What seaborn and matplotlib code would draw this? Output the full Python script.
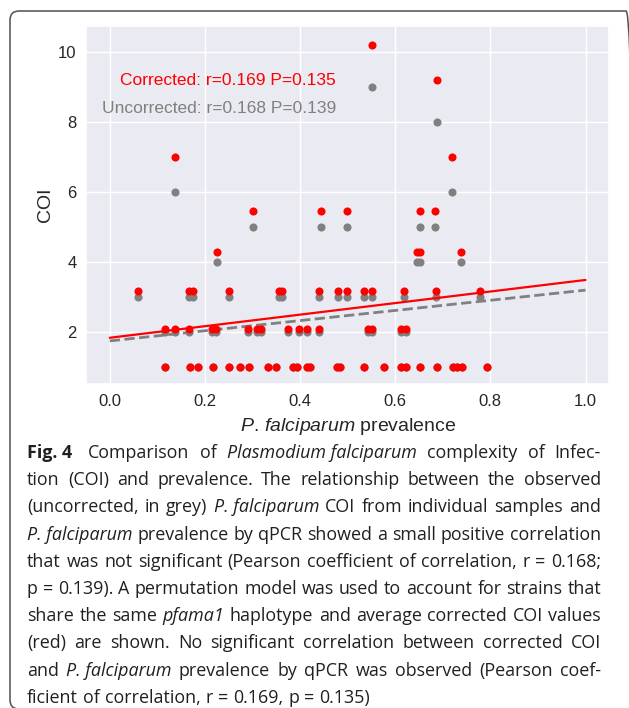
import pandas as pd
import seaborn as sns
from matplotlib import pyplot as plt
from matplotlib.patches import FancyBboxPatch
from matplotlib.transforms import IdentityTransform

# one entry per sample: prevalence, observed COI and corrected COI
prevalence = [
    0.116, 0.169, 0.185, 0.218, 0.250, 0.273, 0.292, 0.333, 0.349, 0.386,
    0.393, 0.415, 0.421, 0.477, 0.483, 0.535, 0.577, 0.612, 0.622, 0.652,
    0.688, 0.722, 0.730, 0.740, 0.792,
    0.116, 0.137, 0.167, 0.215, 0.224, 0.291, 0.310, 0.317, 0.374, 0.398,
    0.415, 0.440, 0.543, 0.552, 0.612, 0.622,
    0.059, 0.167, 0.174, 0.250, 0.356, 0.363, 0.440, 0.480, 0.499, 0.535,
    0.552, 0.619, 0.686, 0.778,
    0.225, 0.646, 0.653, 0.739,
    0.302, 0.444, 0.499, 0.653, 0.684,
    0.137, 0.720,
    0.687,
    0.551,
]
coi_uncorrected = [
    1, 1, 1, 1, 1, 1, 1, 1, 1, 1, 1, 1, 1, 1, 1, 1, 1, 1, 1, 1, 1, 1, 1, 1, 1,
    2, 2, 2, 2, 2, 2, 2, 2, 2, 2, 2, 2, 2, 2, 2, 2,
    3, 3, 3, 3, 3, 3, 3, 3, 3, 3, 3, 3, 3, 3,
    4, 4, 4, 4,
    5, 5, 5, 5, 5,
    6, 6,
    8,
    9,
]
coi_corrected = [
    1, 1, 1, 1, 1, 1, 1, 1, 1, 1, 1, 1, 1, 1, 1, 1, 1, 1, 1, 1, 1, 1, 1, 1, 1,
    2.08, 2.08, 2.08, 2.08, 2.08, 2.08, 2.08, 2.08, 2.08, 2.08, 2.08, 2.08,
    2.08, 2.08, 2.08, 2.08,
    3.16, 3.16, 3.16, 3.16, 3.16, 3.16, 3.16, 3.16, 3.16, 3.16, 3.16, 3.16,
    3.16, 3.16,
    4.29, 4.29, 4.29, 4.29,
    5.45, 5.45, 5.45, 5.45, 5.45,
    6.98, 6.98,
    9.18,
    10.19,
]

# fitted lines, read at both ends
fit_x = [0.0, 1.0]
fit_uncorrected = [1.74, 3.19]
fit_corrected = [1.83, 3.48]

label_corrected = "Corrected: r=0.169 P=0.135"
label_uncorrected = "Uncorrected: r=0.168 P=0.139"

caption = [
    [("Fig. 4", "bold"), ("Comparison of", "normal"), ("Plasmodium falciparum", "italic"),
     ("complexity of Infec-", "normal")],
    [("tion (COI) and prevalence. The relationship between the observed", "normal")],
    [("(uncorrected, in grey)", "normal"), ("P. falciparum", "italic"),
     ("COI from individual samples and", "normal")],
    [("P. falciparum", "italic"), ("prevalence by qPCR showed a small positive correlation", "normal")],
    [("that was not significant (Pearson coefficient of correlation, r = 0.168;", "normal")],
    [("p = 0.139). A permutation model was used to account for strains that", "normal")],
    [("share the same", "normal"), ("pfama1", "italic"), ("haplotype and average corrected COI values", "normal")],
    [("(red) are shown. No significant correlation between corrected COI", "normal")],
    [("and", "normal"), ("P. falciparum", "italic"), ("prevalence by qPCR was observed (Pearson coef-", "normal")],
    [("ficient of correlation, r = 0.169, p = 0.135)", "normal")],
]

df = pd.DataFrame({"prevalence": prevalence, "uncorrected": coi_uncorrected,
                   "corrected": coi_corrected})
fits = pd.DataFrame({"x": fit_x, "uncorrected": fit_uncorrected, "corrected": fit_corrected})

sns.set_theme(style="darkgrid")
plt.rcParams["font.family"] = ["Liberation Sans", "DejaVu Sans"]
plt.rcParams["mathtext.fontset"] = "custom"
plt.rcParams["mathtext.rm"] = "Liberation Sans"
plt.rcParams["mathtext.it"] = "Liberation Sans:italic"

W, H = 629, 708
fig = plt.figure(figsize=(W / 100, H / 100), dpi=100)
fig.patch.set_facecolor("white")
ax = fig.add_axes([86 / W, 1 - 384 / H, (609.3 - 86) / W, (384 - 26) / H])

sns.scatterplot(data=df, x="prevalence", y="uncorrected", color="grey", s=34,
                linewidth=0, ax=ax, zorder=3)
sns.lineplot(data=fits, x="x", y="uncorrected", color="grey", lw=2, linestyle="--",
             ax=ax, zorder=3)
sns.scatterplot(data=df, x="prevalence", y="corrected", color="red", s=34,
                linewidth=0, ax=ax, zorder=4)
sns.lineplot(data=fits, x="x", y="corrected", color="red", lw=1.6, ax=ax, zorder=4)

ax.text(0.475, 9.17, label_corrected, color="red", ha="right", va="center", fontsize=12.5)
ax.text(0.475, 8.38, label_uncorrected, color="grey", ha="right", va="center", fontsize=12.5)

ax.set_xlim(-0.05, 1.05)
ax.set_ylim(0.51, 10.73)
ax.set_xticks([0.0, 0.2, 0.4, 0.6, 0.8, 1.0])
ax.set_yticks([2, 4, 6, 8, 10])
ax.tick_params(labelsize=12, length=0, colors="#262626")
ax.tick_params(axis="x", pad=7.2)
ax.tick_params(axis="y", pad=6.7)
ax.set_xlabel(r"$\it{P.\,falciparum}$ prevalence", fontsize=14, labelpad=5, color="#262626")
ax.set_ylabel("COI", fontsize=14, labelpad=3, color="#262626")

# frame round the figure and caption
fig.add_artist(FancyBboxPatch((10, -1), 625, H - 11 + 1, boxstyle="round,pad=0,rounding_size=9",
                              transform=IdentityTransform(), fill=False,
                              edgecolor="#505050", linewidth=1.1))

# caption, justified like the journal text
cap_font = "Open Sans"
renderer = fig.canvas.get_renderer()
x_left, x_right = 27, 601
for i, line in enumerate(caption):
    y = H - (458 + i * 27.2)
    arts, kinds = [], []
    for text, kind in line:
        words = text.split(" ") if kind == "normal" else [text]
        for w in words:
            t = fig.text(0, y, w, transform=IdentityTransform(), fontsize=12.9, family=cap_font,
                         fontweight="bold" if kind == "bold" else "normal",
                         fontstyle="italic" if kind == "italic" else "normal",
                         color="#231f20", va="baseline", ha="left")
            arts.append(t)
            kinds.append(kind)
    widths = [a.get_window_extent(renderer).width for a in arts]
    extra = 6 if kinds[0] == "bold" else 0
    if i < len(caption) - 1:
        gap = (x_right - x_left - sum(widths) - extra) / (len(arts) - 1)
    else:
        gap = 5
    x = x_left
    for j, (a, w) in enumerate(zip(arts, widths)):
        a.set_x(x)
        x += w + gap + (extra if j == 0 else 0)

fig.savefig("out.png", dpi=100)
